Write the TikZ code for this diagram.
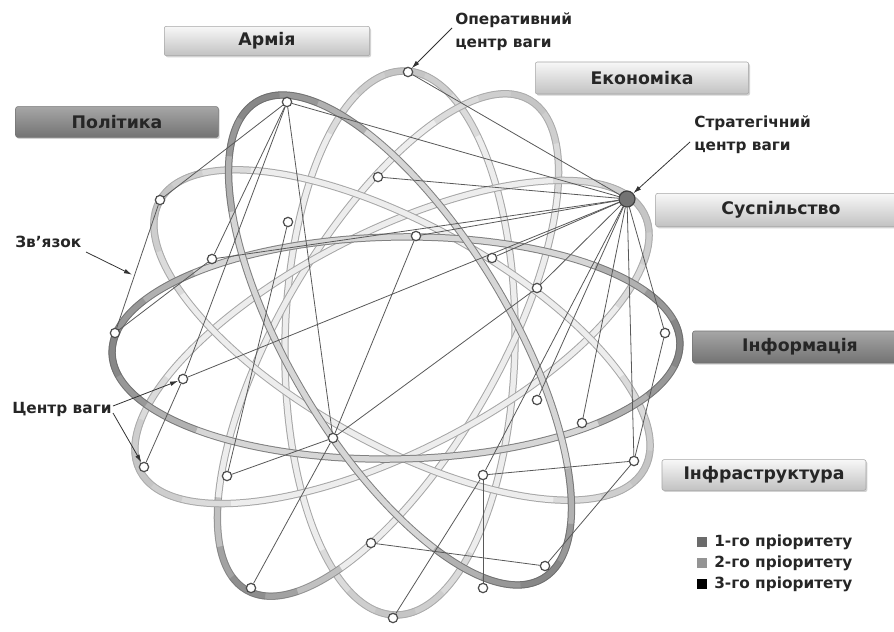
\documentclass[tikz,border=0pt]{standalone}
\usepackage{fontspec}
\setmainfont{DejaVu Sans}
\usetikzlibrary{arrows.meta}
\usetikzlibrary{shadows}
\usetikzlibrary{calc}
\pgfdeclarelayer{rings}
\pgfdeclarelayer{links}
\pgfsetlayers{rings,links,main}
\tikzset{cv/.style={circle,draw=black!70,fill=white,line width=0.9pt,inner sep=0pt,minimum size=7pt}}
\tikzset{scv/.style={circle,draw=black!75,fill=black!55,line width=0.9pt,inner sep=0pt,minimum size=12pt}}
\tikzset{lk/.style={draw=black!65,line width=0.6pt}}
\tikzset{ring/.style={draw=black!35,double=black!7,double distance=4pt,line width=0.75pt}}
\tikzset{dring/.style={draw=black!50,double=black!16,double distance=4pt,line width=0.75pt}}
\tikzset{tipl/.style={draw=black!30,line width=5.2pt,opacity=0.3}}
\tikzset{tipd/.style={draw=black!60,line width=5.2pt,opacity=0.33}}
\tikzset{bx/.style={rounded corners=1.5pt,draw=black!35,top color=black!3,bottom color=black!24,drop shadow={opacity=0.35,shadow xshift=1pt,shadow yshift=-1.2pt},font=\fontsize{13}{13}\selectfont\bfseries,text=black!85,inner sep=0pt}}
\tikzset{dbx/.style={bx,top color=black!35,bottom color=black!55,draw=black!55}}
\tikzset{nt/.style={font=\fontsize{11.5}{17}\selectfont\bfseries,text=black!85,inner sep=0pt,align=left}}
\tikzset{pt/.style={draw=black!80,line width=0.6pt,-{Latex[length=6pt,width=3.5pt]}}}
\tikzset{sq/.style={minimum size=7.5pt,inner sep=0pt}}

\begin{document}
\begin{tikzpicture}[x=0.75pt,y=-0.75pt]
  \useasboundingbox (0,0) rectangle (894,632);

  % rings
  \begin{pgfonlayer}{rings}
    \fill[white] (0,0) rectangle (894,632);
    \begin{scope}[shift={(400,343)},rotate=89]
      \draw[ring] (0,0) ellipse [x radius=272,y radius=115];
      \foreach \s in {40,24,10} {
        \draw[tipl] (180-\s:272 and 115) arc[start angle=180-\s,end angle=180+\s,x radius=272,y radius=115];
        \draw[tipl] (-\s:272 and 115) arc[start angle=-\s,end angle=\s,x radius=272,y radius=115];
      }
    \end{scope}
    \begin{scope}[shift={(388,345)},rotate=60]
      \draw[ring] (0,0) ellipse [x radius=283,y radius=110];
      \foreach \s in {40,24,10} {
        \draw[tipd] (180-\s:283 and 110) arc[start angle=180-\s,end angle=180+\s,x radius=283,y radius=110];
        \draw[tipl] (-\s:283 and 110) arc[start angle=-\s,end angle=\s,x radius=283,y radius=110];
      }
    \end{scope}
    \begin{scope}[shift={(392,342)},rotate=27]
      \draw[ring] (0,0) ellipse [x radius=283,y radius=110];
      \foreach \s in {40,24,10} {
        \draw[tipl] (180-\s:283 and 110) arc[start angle=180-\s,end angle=180+\s,x radius=283,y radius=110];
        \draw[tipl] (-\s:283 and 110) arc[start angle=-\s,end angle=\s,x radius=283,y radius=110];
      }
    \end{scope}
    \begin{scope}[shift={(402,335)},rotate=-29]
      \draw[ring] (0,0) ellipse [x radius=277,y radius=110];
      \foreach \s in {40,24,10} {
        \draw[tipl] (180-\s:277 and 110) arc[start angle=180-\s,end angle=180+\s,x radius=277,y radius=110];
        \draw[tipl] (-\s:277 and 110) arc[start angle=-\s,end angle=\s,x radius=277,y radius=110];
      }
    \end{scope}
    \begin{scope}[shift={(396,348)},rotate=1]
      \draw[dring] (0,0) ellipse [x radius=284,y radius=111];
      \foreach \s in {45,28,12} {
        \draw[tipd] (180-\s:284 and 111) arc[start angle=180-\s,end angle=180+\s,x radius=284,y radius=111];
        \draw[tipd] (-\s:284 and 111) arc[start angle=-\s,end angle=\s,x radius=284,y radius=111];
      }
    \end{scope}
    \begin{scope}[shift={(400,340)},rotate=-59]
      \draw[dring] (0,0) ellipse [x radius=278,y radius=110];
      \foreach \s in {45,28,12} {
        \draw[tipd] (180-\s:278 and 110) arc[start angle=180-\s,end angle=180+\s,x radius=278,y radius=110];
        \draw[tipd] (-\s:278 and 110) arc[start angle=-\s,end angle=\s,x radius=278,y radius=110];
      }
    \end{scope}
  \end{pgfonlayer}

  % centres of gravity
  \node[cv] (c1) at (408,72) {};
  \node[cv] (c2) at (287,102) {};
  \node[cv] (c3) at (160,200) {};
  \node[cv] (c4) at (378,177) {};
  \node[cv] (c5) at (288,222) {};
  \node[cv] (c6) at (212,259) {};
  \node[cv] (c7) at (416,236) {};
  \node[cv] (c8) at (492,258) {};
  \node[cv] (c9) at (115,333) {};
  \node[cv] (c10) at (537,288) {};
  \node[scv] (sc) at (627,199) {};
  \node[cv] (c12) at (665,333) {};
  \node[cv] (c13) at (183,379) {};
  \node[cv] (c14) at (144,467) {};
  \node[cv] (c15) at (227,476) {};
  \node[cv] (c16) at (333,438) {};
  \node[cv] (c17) at (251,588) {};
  \node[cv] (c18) at (371,543) {};
  \node[cv] (c19) at (393,618) {};
  \node[cv] (c20) at (483,475) {};
  \node[cv] (c21) at (483,588) {};
  \node[cv] (c22) at (545,566) {};
  \node[cv] (c23) at (582,423) {};
  \node[cv] (c24) at (537,400) {};
  \node[cv] (c25) at (634,461) {};

  % links
  \begin{pgfonlayer}{links}
    \draw[lk] (sc) edge (c1) edge (c2) edge (c4) edge (c6) edge (c7)
      edge (c8) edge (c10) edge (c13) edge (c20) edge (c23)
      edge (c24) edge (c25) edge (c12);
    \draw[lk] (c2) edge (c3) edge (c6) edge (c13) edge (c16);
    \draw[lk] (c9) edge (c3) edge (c6);
    \draw[lk] (c16) edge (c15) edge (c17) edge (c7) edge (c10);
    \draw[lk] (c5) -- (c15);
    \draw[lk] (c13) -- (c14);
    \draw[lk] (c18) -- (c22);
    \draw[lk] (c20) edge (c19) edge (c21) edge (c25);
    \draw[lk] (c25) edge (c12) edge (c22);
  \end{pgfonlayer}

  % spheres
  \node[bx,minimum width=154pt,minimum height=22pt] (army) at (267,41) {Армія};
  \node[dbx,minimum width=152pt,minimum height=23pt] (polit) at (117,122) {Політика};
  \node[bx,minimum width=160pt,minimum height=24pt] (econ) at (642,78) {Економіка};
  \node[bx,minimum width=188pt,minimum height=25pt] (soc) at (781,210) {Суспільство};
  \node[dbx,minimum width=161pt,minimum height=24pt] (info) at (800,347) {Інформація};
  \node[bx,minimum width=153pt,minimum height=23pt] (infra) at (764,475) {Інфраструктура};

  % notes
  \node[nt,anchor=north west] (oper) at (455,13) {Оперативний\\центр ваги};
  \node[nt,anchor=north west] (strat) at (694,116) {Стратегічний\\центр ваги};
  \node[nt,anchor=west] (link) at (15,242) {Зв'язок};
  \node[nt,anchor=west] (cog) at (12,410) {Центр ваги};
  \coordinate (opera) at (452,28);
  \coordinate (strata) at (690,142);
  \coordinate (linka) at (86,252);
  \coordinate (cogb) at (113,406);
  \coordinate (coga) at (113,413);
  \draw[pt] (opera) -- (c1);
  \draw[pt] (strata) -- (sc);
  \draw[pt,shorten >=2pt] (linka) -- ($(c3)!0.57!(c9)$);
  \draw[pt] (cogb) -- (c13);
  \draw[pt] (coga) -- (c14);

  % legend
  \node[sq,fill=black!58] (p1) at (702,542) {};
  \node[sq,fill=black!42] (p2) at (702,563) {};
  \node[sq,fill=black] (p3) at (702,584) {};
  \node[nt,anchor=west] at (714,542) {1-го пріоритету};
  \node[nt,anchor=west] at (714,563) {2-го пріоритету};
  \node[nt,anchor=west] at (714,584) {3-го пріоритету};
\end{tikzpicture}
\end{document}
